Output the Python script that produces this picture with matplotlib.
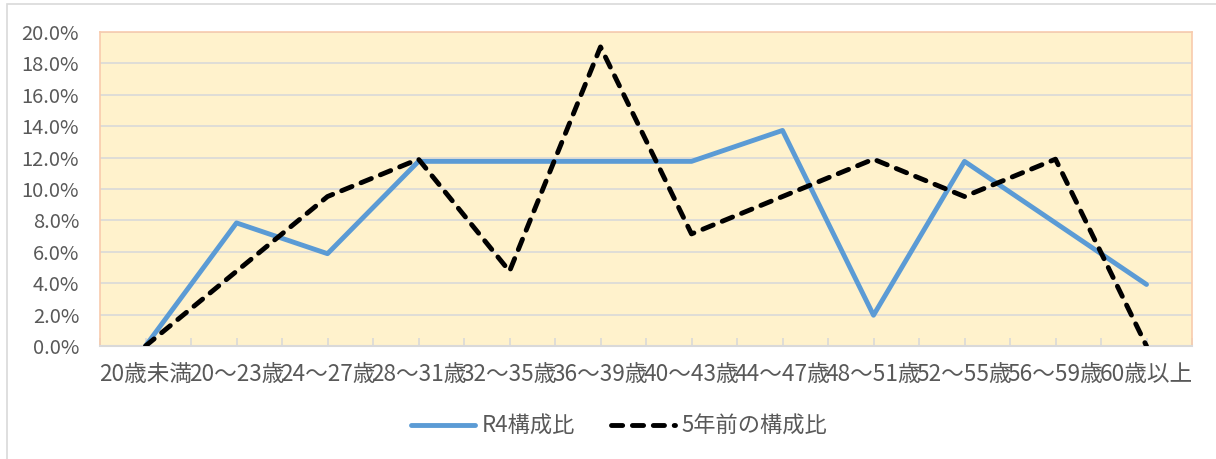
import matplotlib
matplotlib.use("Agg")
import matplotlib.pyplot as plt
from matplotlib.lines import Line2D
from matplotlib.patches import Rectangle
from matplotlib.ticker import FuncFormatter
import numpy as np

plt.rcParams['font.family'] = ['Noto Sans CJK JP', 'DejaVu Sans']

categories = ["20歳未満", "20～23歳", "24～27歳", "28～31歳", "32～35歳", "36～39歳",
              "40～43歳", "44～47歳", "48～51歳", "52～55歳", "56～59歳", "60歳以上"]
r4_share = [0.0, 7.84, 5.88, 11.76, 11.76, 11.76, 11.76, 13.73, 1.96, 11.76, 7.84, 3.92]
prev_share = [0.0, 4.76, 9.52, 11.90, 4.76, 19.05, 7.14, 9.52, 11.90, 9.52, 11.90, 0.0]
series_names = ["R4構成比", "5年前の構成比"]

W, H = 1216, 459
fig = plt.figure(figsize=(W / 100, H / 100), dpi=100)
fig.patch.set_facecolor("white")
fig.patches.append(Rectangle((7 / W, -0.05), 1.2, 1 - 4 / H + 0.05, transform=fig.transFigure,
                             fill=False, edgecolor="#D9D9D9", linewidth=1.2))

ax = fig.add_axes([100 / W, 1 - 346 / H, (1192 - 100) / W, (346 - 32) / H])
ax.set_facecolor("#FFF2CC")
x = np.arange(len(categories))

LW = 3.5
DASH = (0, (2.3, 2.0))
ax.plot(x, r4_share, color="#5B9BD5", linewidth=LW, solid_capstyle="round",
        solid_joinstyle="round", zorder=3)
ax.plot(x, prev_share, color="black", linewidth=LW, linestyle=DASH,
        dash_capstyle="round", dash_joinstyle="round", zorder=4)

ax.set_xlim(-0.5, len(categories) - 0.5)
ax.set_ylim(0, 20)
ax.set_yticks(np.arange(0, 20.1, 2))
ax.yaxis.set_major_formatter(FuncFormatter(lambda v, p: f"{v:.1f}%"))
ax.grid(axis="y", color="#D9D9D9", linewidth=1.2, zorder=1)
ax.set_axisbelow(True)

ax.set_xticks(x)
ax.set_xticklabels(categories)
ax.set_xticks(np.arange(-0.5, len(categories), 1.0), minor=True)
ax.tick_params(axis="x", which="both", direction="in", length=6, color="#D9D9D9",
               width=1.2, labelsize=16.3, labelcolor="#595959", pad=12)
ax.tick_params(axis="y", length=0, labelsize=14.5, labelcolor="#595959", pad=15)

for s in ["left", "right", "top"]:
    ax.spines[s].set_color("#F8CBAD")
    ax.spines[s].set_linewidth(1.2)
ax.spines["bottom"].set_color("#D9D9D9")
ax.spines["bottom"].set_linewidth(1.5)

handles = [Line2D([], [], color="#5B9BD5", linewidth=LW, solid_capstyle="round"),
           Line2D([], [], color="black", linewidth=LW, linestyle=DASH,
                  dash_capstyle="round")]
fig.legend(handles, series_names, loc="center", bbox_to_anchor=(619 / W, 1 - 426 / H),
           ncol=2, frameon=False, fontsize=16, labelcolor="#595959",
           handlelength=2.9, handletextpad=0.3, columnspacing=1.6)

fig.savefig("out.png", dpi=100)
